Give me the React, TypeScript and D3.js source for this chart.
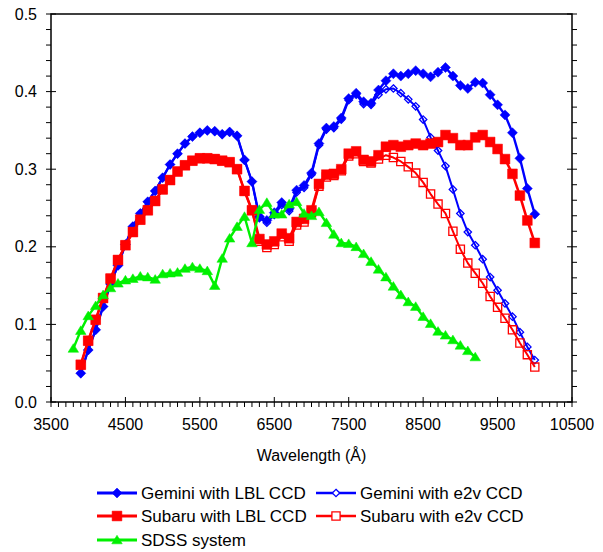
import React, { useEffect, useRef } from 'react';
import * as d3 from 'd3';

// wavelength grid of the four CCD curves (Angstrom)
const ccdWavelengths = [
  3900, 4000, 4100, 4200, 4300, 4400, 4500, 4600, 4700, 4800,
  4900, 5000, 5100, 5200, 5300, 5400, 5500, 5600, 5700, 5800,
  5900, 6000, 6100, 6200, 6300, 6400, 6500, 6600, 6700, 6800,
  6900, 7000, 7100, 7200, 7300, 7400, 7500, 7600, 7700, 7800,
  7900, 8000, 8100, 8200, 8300, 8400, 8500, 8600, 8700, 8800,
  8900, 9000, 9100, 9200, 9300, 9400, 9500, 9600, 9700, 9800,
  9900, 10000,
];

const geminiLBL = [
  0.037, 0.067, 0.093, 0.123, 0.152, 0.176, 0.203, 0.226, 0.243, 0.258,
  0.272, 0.289, 0.306, 0.320, 0.333, 0.342, 0.347, 0.350, 0.349, 0.345,
  0.348, 0.343, 0.312, 0.284, 0.239, 0.234, 0.244, 0.257, 0.249, 0.273,
  0.279, 0.295, 0.333, 0.353, 0.355, 0.366, 0.391, 0.398, 0.387, 0.385,
  0.402, 0.414, 0.423, 0.420, 0.423, 0.427, 0.423, 0.419, 0.425, 0.431,
  0.420, 0.408, 0.404, 0.412, 0.411, 0.396, 0.383, 0.370, 0.347, 0.314,
  0.275, 0.242,
];

const geminiE2V = [
  0.037, 0.067, 0.093, 0.123, 0.152, 0.176, 0.203, 0.226, 0.243, 0.258,
  0.272, 0.289, 0.306, 0.320, 0.333, 0.342, 0.347, 0.350, 0.349, 0.345,
  0.348, 0.343, 0.312, 0.284, 0.237, 0.231, 0.241, 0.254, 0.246, 0.270,
  0.276, 0.293, 0.331, 0.351, 0.353, 0.364, 0.389, 0.396, 0.384, 0.383,
  0.396, 0.403, 0.404, 0.398, 0.390, 0.381, 0.364, 0.341, 0.324, 0.304,
  0.274, 0.243, 0.219, 0.202, 0.184, 0.161, 0.144, 0.127, 0.110, 0.090,
  0.071, 0.054,
];

const subaruLBL = [
  0.048, 0.079, 0.106, 0.134, 0.159, 0.183, 0.202, 0.219, 0.235, 0.247,
  0.259, 0.274, 0.286, 0.297, 0.305, 0.311, 0.314, 0.314, 0.313, 0.311,
  0.309, 0.300, 0.272, 0.247, 0.210, 0.203, 0.207, 0.217, 0.211, 0.232,
  0.236, 0.247, 0.281, 0.293, 0.294, 0.300, 0.320, 0.323, 0.312, 0.310,
  0.318, 0.329, 0.331, 0.329, 0.331, 0.333, 0.331, 0.333, 0.335, 0.344,
  0.340, 0.331, 0.331, 0.341, 0.344, 0.335, 0.326, 0.313, 0.294, 0.266,
  0.234, 0.205,
];

const subaruE2V = [
  0.048, 0.079, 0.106, 0.134, 0.159, 0.183, 0.202, 0.219, 0.235, 0.247,
  0.259, 0.274, 0.286, 0.297, 0.305, 0.311, 0.314, 0.314, 0.313, 0.311,
  0.309, 0.300, 0.272, 0.247, 0.207, 0.199, 0.203, 0.213, 0.207, 0.228,
  0.232, 0.244, 0.278, 0.290, 0.292, 0.298, 0.317, 0.320, 0.310, 0.308,
  0.313, 0.318, 0.315, 0.310, 0.303, 0.295, 0.283, 0.268, 0.255, 0.243,
  0.220, 0.197, 0.179, 0.166, 0.153, 0.136, 0.122, 0.108, 0.093, 0.076,
  0.061, 0.045,
];

const sdssWavelengths = [
  3800, 3900, 4000, 4100, 4200, 4300, 4400, 4500, 4600, 4700,
  4800, 4900, 5000, 5100, 5200, 5300, 5400, 5500, 5600, 5700,
  5800, 5900, 6000, 6100, 6200, 6300, 6400, 6500, 6600, 6700,
  6800, 6900, 7000, 7100, 7200, 7300, 7400, 7500, 7600, 7700,
  7800, 7900, 8000, 8100, 8200, 8300, 8400, 8500, 8600, 8700,
  8800, 8900, 9000, 9100, 9200,
];

const sdss = [
  0.069, 0.092, 0.111, 0.124, 0.138, 0.147, 0.153, 0.157, 0.159, 0.162,
  0.161, 0.158, 0.165, 0.166, 0.167, 0.172, 0.174, 0.172, 0.169, 0.150,
  0.185, 0.211, 0.226, 0.239, 0.205, 0.248, 0.257, 0.242, 0.242, 0.255,
  0.258, 0.243, 0.240, 0.245, 0.231, 0.216, 0.205, 0.204, 0.200, 0.191,
  0.181, 0.171, 0.161, 0.149, 0.138, 0.129, 0.123, 0.110, 0.101, 0.091,
  0.086, 0.080, 0.073, 0.066, 0.058,
];

const xTickLabels = [3500, 4500, 5500, 6500, 7500, 8500, 9500, 10500];
const yTickLabels = [0.0, 0.1, 0.2, 0.3, 0.4, 0.5];

const W = 603;
const H = 552;
const FONT = '"Liberation Sans", Arial, sans-serif';

function markerPath(kind: string, s: number) {
  if (kind === 'diamond') return `M0,${-s}L${s},0L0,${s}L${-s},0Z`;
  if (kind === 'square') return `M${-s},${-s}H${s}V${s}H${-s}Z`;
  // triangle
  return `M0,${-s}L${s * 1.1},${s * 0.8}L${-s * 1.1},${s * 0.8}Z`;
}

export default function App() {
  const svgRef = useRef<SVGSVGElement>(null);

  useEffect(() => {
    const svg = d3.select(svgRef.current);
    svg.selectAll('*').remove();

    const margin = { top: 14, right: 31, bottom: 150, left: 51 };
    const x = d3.scaleLinear().domain([3500, 10500]).range([margin.left, W - margin.right]);
    const y = d3.scaleLinear().domain([0, 0.5]).range([H - margin.bottom, margin.top]);
    const x0 = x.range()[0], x1 = x.range()[1];
    const y0 = y.range()[0], y1 = y.range()[1];

    const series = [
      { name: 'Gemini with LBL CCD', wl: ccdWavelengths, v: geminiLBL, color: '#0000ff', marker: 'diamond', size: 5, hollow: false, lw: 2.4 },
      { name: 'Gemini with e2v CCD', wl: ccdWavelengths, v: geminiE2V, color: '#0000ff', marker: 'diamond', size: 3.7, hollow: true, lw: 2 },
      { name: 'Subaru with LBL CCD', wl: ccdWavelengths, v: subaruLBL, color: '#ff0000', marker: 'square', size: 4.9, hollow: false, lw: 2.6 },
      { name: 'Subaru with e2v CCD', wl: ccdWavelengths, v: subaruE2V, color: '#ff0000', marker: 'square', size: 4.1, hollow: true, lw: 2 },
      { name: 'SDSS system', wl: sdssWavelengths, v: sdss, color: '#00f000', marker: 'triangle', size: 4.8, hollow: false, lw: 2.4 },
    ];

    // frame
    const axis = svg.append('g').attr('stroke', '#000').attr('stroke-width', 1.5);
    axis.append('rect')
      .attr('x', x0).attr('y', y1)
      .attr('width', x1 - x0).attr('height', y0 - y1)
      .attr('fill', 'none');

    // y ticks (left and right)
    const yMinor = d3.range(0, 0.5001, 0.02);
    yMinor.forEach(v => {
      const major = Math.abs(v * 10 - Math.round(v * 10)) < 1e-6;
      const yy = y(v);
      axis.append('line').attr('x1', x0 - 5).attr('x2', major ? x0 + 5 : x0).attr('y1', yy).attr('y2', yy).attr('stroke-width', 1);
      axis.append('line').attr('x1', major ? x1 - 5 : x1).attr('x2', x1 + 5).attr('y1', yy).attr('y2', yy).attr('stroke-width', 1);
    });

    // x ticks
    const xMinor = d3.range(3500, 10501, 100);
    xMinor.forEach(v => {
      const major = (v - 3500) % 1000 === 0;
      const xx = x(v);
      axis.append('line').attr('x1', xx).attr('x2', xx).attr('y1', major ? y0 - 5 : y0).attr('y2', y0 + 5).attr('stroke-width', 1);
    });

    svg.append('g').selectAll('text')
      .data(yTickLabels)
      .enter().append('text')
      .attr('x', x0 - 14)
      .attr('y', d => y(d))
      .attr('dy', '0.35em')
      .attr('text-anchor', 'end')
      .style('font-family', FONT).style('font-size', '16px')
      .text(d => d.toFixed(1));

    svg.append('g').selectAll('text')
      .data(xTickLabels)
      .enter().append('text')
      .attr('x', d => x(d))
      .attr('y', y0 + 28)
      .attr('text-anchor', 'middle')
      .style('font-family', FONT).style('font-size', '16px')
      .text(d => d);

    svg.append('text')
      .attr('x', (x0 + x1) / 2)
      .attr('y', y0 + 59)
      .attr('text-anchor', 'middle')
      .style('font-family', FONT).style('font-size', '16px')
      .text('Wavelength (Å)');

    // series
    const line = d3.line<[number, number]>().x(d => x(d[0])).y(d => y(d[1]));
    series.forEach(s => {
      const pts: [number, number][] = s.wl.map((w, i) => [w, s.v[i]]);
      const g = svg.append('g');
      g.append('path')
        .attr('d', line(pts))
        .attr('fill', 'none')
        .attr('stroke', s.color)
        .attr('stroke-width', s.lw)
        .attr('stroke-linejoin', 'round');
      g.selectAll('path.m')
        .data(pts)
        .enter().append('path')
        .attr('class', 'm')
        .attr('transform', d => `translate(${x(d[0])},${y(d[1])})`)
        .attr('d', markerPath(s.marker, s.size))
        .attr('fill', s.hollow ? 'none' : s.color)
        .attr('stroke', s.color)
        .attr('stroke-width', s.hollow ? 1.3 : 0.5);
    });

    // legend
    const legendPos = [
      { lx: 97, ty: 493 }, { lx: 316, ty: 493 },
      { lx: 97, ty: 516 }, { lx: 316, ty: 516 },
      { lx: 97, ty: 540 },
    ];
    series.forEach((s, i) => {
      const p = legendPos[i];
      const g = svg.append('g').attr('transform', `translate(${p.lx},${p.ty})`);
      g.append('line').attr('x1', 0).attr('x2', 40).attr('y1', 0).attr('y2', 0)
        .attr('stroke', s.color).attr('stroke-width', s.lw + 0.4);
      g.append('path')
        .attr('transform', 'translate(20,0)')
        .attr('d', markerPath(s.marker, s.size))
        .attr('fill', s.hollow ? '#fff' : s.color)
        .attr('stroke', s.color)
        .attr('stroke-width', s.hollow ? 1.3 : 0.5);
      g.append('text')
        .attr('x', 44).attr('y', 0).attr('dy', '0.36em')
        .style('font-family', FONT).style('font-size', '17px')
        .text(s.name);
    });
  }, []);

  return (
    <svg
      ref={svgRef}
      width={W}
      height={H}
      style={{ position: 'absolute', left: 0, top: 0, background: '#fff' }}
    />
  );
}
